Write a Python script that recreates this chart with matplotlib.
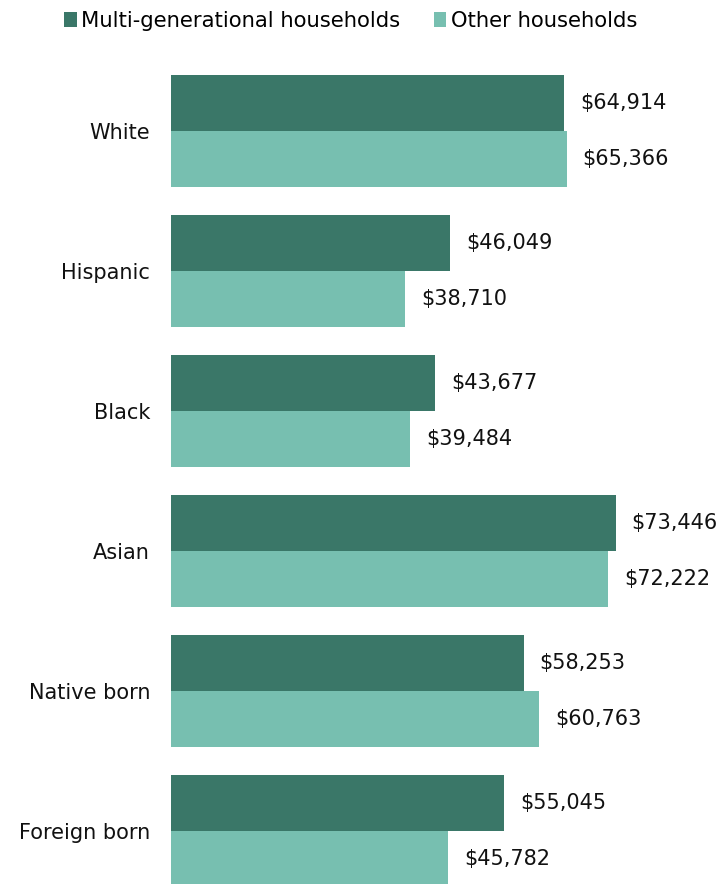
import matplotlib.pyplot as plt
import numpy as np

# median household income by group
categories = ['White', 'Hispanic', 'Black', 'Asian', 'Native born', 'Foreign born']
multi_gen = [64914, 46049, 43677, 73446, 58253, 55045]
other = [65366, 38710, 39484, 72222, 60763, 45782]
series_names = ['Multi-generational households', 'Other households']

dark = '#3a7768'
light = '#77bfb0'

fig = plt.figure(figsize=(7.27, 8.84), dpi=100)
ax = fig.add_axes([171 / 727, 0, 556 / 727, 823 / 884])

y = np.arange(len(categories))
h = 0.4
b1 = ax.barh(y - h / 2, multi_gen, height=h, color=dark, label=series_names[0])
b2 = ax.barh(y + h / 2, other, height=h, color=light, label=series_names[1])

# value labels to the right of each bar
for bars, vals in ((b1, multi_gen), (b2, other)):
    for bar, v in zip(bars, vals):
        ax.annotate(f'${v:,}', (v, bar.get_y() + bar.get_height() / 2),
                    xytext=(11.5, 0), textcoords='offset points',
                    ha='left', va='center', fontsize=15, color='#111111')

ax.set_xlim(0, 91840)
ax.set_ylim(5.379, -0.5)
ax.set_yticks(y)
ax.set_yticklabels(categories, fontsize=15, color='#111111')
ax.tick_params(axis='y', length=0, pad=15)
ax.set_xticks([])
for s in ax.spines.values():
    s.set_visible(False)

fig.legend(handles=[b1, b2], loc='upper left', bbox_to_anchor=(45 / 727, 1.009),
           ncol=2, frameon=False, handlelength=0.6, handleheight=0.7,
           handletextpad=0.2, columnspacing=1.6,
           prop={'size': 15.2})

fig.savefig('out.png', dpi=100)
